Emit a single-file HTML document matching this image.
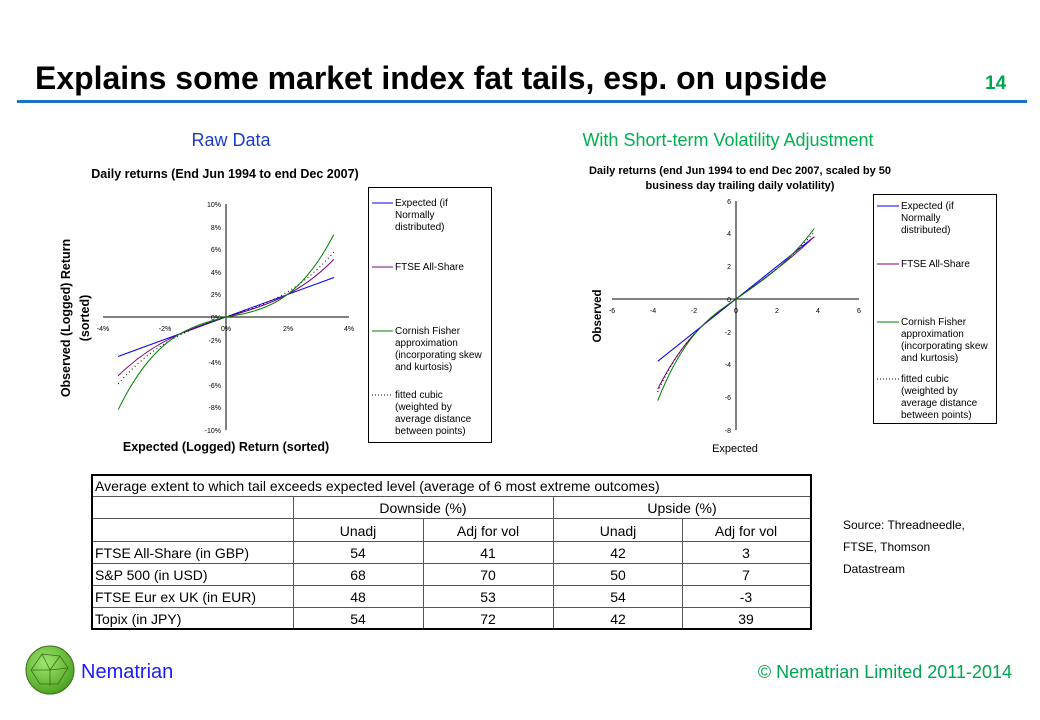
<!DOCTYPE html>
<html><head><meta charset="utf-8"><style>
html,body{margin:0;padding:0;background:#fff}
svg{display:block;font-family:"Liberation Sans",Arial,sans-serif}
</style></head><body>
<svg width="1040" height="720" viewBox="0 0 1040 720" xmlns="http://www.w3.org/2000/svg">
<text x="35" y="89" font-size="32" font-weight="bold" textLength="792" lengthAdjust="spacingAndGlyphs">Explains some market index fat tails, esp. on upside</text>
<text x="985" y="89" font-size="19" font-weight="bold" fill="#00a550">14</text>
<rect x="17" y="100" width="1010" height="3" fill="#1a73c8"/>
<text x="231" y="146" font-size="18" fill="#1a3ccc" text-anchor="middle">Raw Data</text>
<text x="728" y="146" font-size="18" fill="#00b050" text-anchor="middle">With Short-term Volatility Adjustment</text>

<!-- LEFT CHART -->
<text x="225" y="178" font-size="12.5" font-weight="bold" text-anchor="middle">Daily returns (End Jun 1994 to end Dec 2007)</text>
<g stroke="#000" stroke-width="1">
<line x1="226" y1="204" x2="226" y2="430"/>
<line x1="103" y1="317" x2="349" y2="317"/>
</g>
<g font-size="7" text-anchor="end" fill="#000">
<text x="221" y="207">10%</text><text x="221" y="230">8%</text><text x="221" y="252">6%</text><text x="221" y="275">4%</text><text x="221" y="297">2%</text><text x="221" y="320">0%</text><text x="221" y="343">-2%</text><text x="221" y="365">-4%</text><text x="221" y="388">-6%</text><text x="221" y="410">-8%</text><text x="221" y="433">-10%</text>
</g>
<g font-size="7" text-anchor="middle">
<text x="103" y="331">-4%</text><text x="165" y="331">-2%</text><text x="226" y="331">0%</text><text x="288" y="331">2%</text><text x="349" y="331">4%</text>
</g>
<text x="226" y="451" font-size="12.5" font-weight="bold" text-anchor="middle">Expected (Logged) Return (sorted)</text>
<text transform="translate(70,318) rotate(-90)" font-size="12.5" font-weight="bold" text-anchor="middle">Observed (Logged) Return</text>
<text transform="translate(89,318) rotate(-90)" font-size="12.5" font-weight="bold" text-anchor="middle">(sorted)</text>
<g fill="none" stroke-width="1">
<line x1="118" y1="356.5" x2="334" y2="277.5" stroke="#0000ff"/>
<path d="M118.2,375.8 C154.1,340.5 190.1,328.8 226,317 C261.9,306.7 297.9,296.5 333.8,259.4" stroke="#800080"/>
<path d="M118.2,384 C154.1,342 190.1,329 226,317 C261.9,306 297.9,294 333.8,252" stroke="#000" stroke-dasharray="1,3"/>
<path d="M118.2,409.7 C154.1,335.4 190.1,326.2 226,317 C261.9,310.8 297.9,304.5 333.8,234.5" stroke="#008000"/>
</g>
<rect x="368.5" y="187.5" width="123" height="255" fill="none" stroke="#000"/>
<g font-size="10">
<line x1="372" y1="203" x2="393" y2="203" stroke="#0000ff"/>
<text x="395" y="206">Expected (if</text><text x="395" y="218">Normally</text><text x="395" y="230">distributed)</text>
<line x1="372" y1="267" x2="393" y2="267" stroke="#800080"/>
<text x="395" y="270">FTSE All-Share</text>
<line x1="372" y1="331" x2="393" y2="331" stroke="#008000"/>
<text x="395" y="334">Cornish Fisher</text><text x="395" y="346">approximation</text><text x="395" y="358">(incorporating skew</text><text x="395" y="370">and kurtosis)</text>
<line x1="372" y1="395" x2="393" y2="395" stroke="#000" stroke-dasharray="1,2"/>
<text x="395" y="398">fitted cubic</text><text x="395" y="410">(weighted by</text><text x="395" y="422">average distance</text><text x="395" y="434">between points)</text>
</g>

<!-- RIGHT CHART -->
<text x="740" y="174" font-size="11" font-weight="bold" text-anchor="middle">Daily returns (end Jun 1994 to end Dec 2007, scaled by 50</text>
<text x="740" y="189" font-size="11" font-weight="bold" text-anchor="middle">business day trailing daily volatility)</text>
<g stroke="#000" stroke-width="1">
<line x1="736" y1="201" x2="736" y2="430"/>
<line x1="612" y1="299" x2="859" y2="299"/>
</g>
<g font-size="7" text-anchor="end">
<text x="731" y="204">6</text><text x="731" y="236">4</text><text x="731" y="269">2</text><text x="731" y="302">0</text><text x="731" y="335">-2</text><text x="731" y="367">-4</text><text x="731" y="400">-6</text><text x="731" y="433">-8</text>
</g>
<g font-size="7" text-anchor="middle">
<text x="612" y="313">-6</text><text x="653" y="313">-4</text><text x="694" y="313">-2</text><text x="736" y="313">0</text><text x="777" y="313">2</text><text x="818" y="313">4</text><text x="859" y="313">6</text>
</g>
<text x="735" y="452" font-size="11" text-anchor="middle">Expected</text>
<text transform="translate(601,316) rotate(-90)" font-size="11.5" font-weight="bold" text-anchor="middle">Observed</text>
<g fill="none" stroke-width="1">
<line x1="657.7" y1="361.3" x2="814.3" y2="236.7" stroke="#0000ff"/>
<path d="M657.7,389.2 C683.8,336.4 709.9,317.7 736,299 C762.1,280.3 788.2,261.6 814.3,236.7" stroke="#800080"/>
<path d="M657.7,392 C683.8,335 709.9,317.5 736,299 C762.1,280.5 788.2,262 814.3,232" stroke="#000" stroke-dasharray="1,3"/>
<path d="M657.7,400.7 C683.8,334.3 709.9,316.7 736,299 C762.1,281.3 788.2,263.7 814.3,228.5" stroke="#008000"/>
</g>
<rect x="873.5" y="194.5" width="123" height="229" fill="none" stroke="#000"/>
<g font-size="10">
<line x1="877" y1="206" x2="899" y2="206" stroke="#0000ff"/>
<text x="901" y="209">Expected (if</text><text x="901" y="221">Normally</text><text x="901" y="233">distributed)</text>
<line x1="877" y1="264" x2="899" y2="264" stroke="#800080"/>
<text x="901" y="267">FTSE All-Share</text>
<line x1="877" y1="322" x2="899" y2="322" stroke="#008000"/>
<text x="901" y="325">Cornish Fisher</text><text x="901" y="337">approximation</text><text x="901" y="349">(incorporating skew</text><text x="901" y="361">and kurtosis)</text>
<line x1="877" y1="379" x2="899" y2="379" stroke="#000" stroke-dasharray="1,2"/>
<text x="901" y="382">fitted cubic</text><text x="901" y="394">(weighted by</text><text x="901" y="406">average distance</text><text x="901" y="418">between points)</text>
</g>

<!-- TABLE -->
<g stroke="#555" stroke-width="1">
<line x1="91" y1="496.5" x2="811" y2="496.5"/>
<line x1="91" y1="518.5" x2="811" y2="518.5"/>
<line x1="91" y1="541.5" x2="811" y2="541.5"/>
<line x1="91" y1="563.5" x2="811" y2="563.5"/>
<line x1="91" y1="585.5" x2="811" y2="585.5"/>
<line x1="91" y1="607.5" x2="811" y2="607.5"/>
<line x1="293.5" y1="496" x2="293.5" y2="629"/>
<line x1="553.5" y1="496" x2="553.5" y2="629"/>
<line x1="423.5" y1="518" x2="423.5" y2="629"/>
<line x1="682.5" y1="518" x2="682.5" y2="629"/>
</g>
<rect x="92" y="475" width="719" height="154" fill="none" stroke="#000" stroke-width="2"/>
<g font-size="14">
<text x="95" y="491">Average extent to which tail exceeds expected level (average of 6 most extreme outcomes)</text>
<text x="423" y="513" text-anchor="middle">Downside (%)</text>
<text x="682" y="513" text-anchor="middle">Upside (%)</text>
<g text-anchor="middle">
<text x="358" y="536">Unadj</text><text x="488" y="536">Adj for vol</text><text x="618" y="536">Unadj</text><text x="746" y="536">Adj for vol</text>
<text x="358" y="558">54</text><text x="488" y="558">41</text><text x="618" y="558">42</text><text x="746" y="558">3</text>
<text x="358" y="580">68</text><text x="488" y="580">70</text><text x="618" y="580">50</text><text x="746" y="580">7</text>
<text x="358" y="602">48</text><text x="488" y="602">53</text><text x="618" y="602">54</text><text x="746" y="602">-3</text>
<text x="358" y="624">54</text><text x="488" y="624">72</text><text x="618" y="624">42</text><text x="746" y="624">39</text>
</g>
<text x="95" y="558">FTSE All-Share (in GBP)</text>
<text x="95" y="580">S&amp;P 500 (in USD)</text>
<text x="95" y="602">FTSE Eur ex UK (in EUR)</text>
<text x="95" y="624">Topix (in JPY)</text>
</g>
<g font-size="12">
<text x="843" y="529">Source: Threadneedle,</text>
<text x="843" y="551">FTSE, Thomson</text>
<text x="843" y="573">Datastream</text>
</g>

<!-- FOOTER -->
<defs><radialGradient id="g" cx="0.4" cy="0.35" r="0.7"><stop offset="0" stop-color="#9fe870"/><stop offset="1" stop-color="#4a9e1c"/></radialGradient></defs>
<circle cx="50" cy="670" r="24" fill="url(#g)" stroke="#3a6e1a" stroke-width="1"/>
<g stroke="#3a6e1a" stroke-width="0.8" fill="none">
<polygon points="42,654 60,656 68,668 58,684 40,684 31,670"/>
<line x1="42" y1="654" x2="50" y2="670"/><line x1="60" y1="656" x2="50" y2="670"/><line x1="31" y1="670" x2="50" y2="670"/><line x1="68" y1="668" x2="50" y2="670"/><line x1="50" y1="670" x2="50" y2="686"/>
</g>
<text x="81" y="678" font-size="20" fill="#1a1aff">Nematrian</text>
<text x="1012" y="678" font-size="18" fill="#00a550" text-anchor="end">© Nematrian Limited 2011-2014</text>
</svg>
</body></html>
